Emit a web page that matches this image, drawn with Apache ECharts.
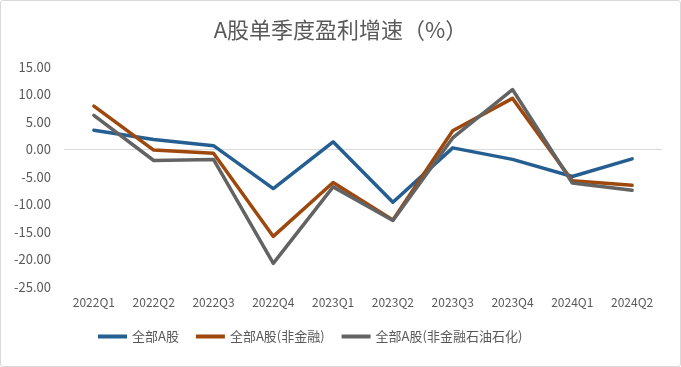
<!DOCTYPE html>
<html><head><meta charset="utf-8">
<script src="https://cdn.jsdelivr.net/npm/echarts@6/dist/echarts.min.js"></script>
<style>html,body{margin:0;padding:0;background:#fff}#c{width:681px;height:367px;box-sizing:border-box;border:1px solid #d9d9d9;border-radius:3px}</style>
</head><body><div id="c"></div>
<script>
var categories = ['2022Q1','2022Q2','2022Q3','2022Q4','2023Q1','2023Q2','2023Q3','2023Q4','2024Q1','2024Q2'];
var seriesNames = ['全部A股','全部A股(非金融)','全部A股(非金融石油石化)'];
var allA = [3.5, 1.8, 0.7, -7.1, 1.4, -9.6, 0.3, -1.8, -4.9, -1.7];
var nonFin = [7.9, -0.1, -0.7, -15.8, -6.0, -12.8, 3.4, 9.3, -5.7, -6.5];
var nonFinOil = [6.2, -2.0, -1.8, -20.7, -6.8, -12.9, 2.1, 10.9, -6.1, -7.4];
var yTicks = {min: -25, max: 15, interval: 5};
var colors = ['#255e91', '#9e480e', '#636363'];

var font = '"Noto Sans CJK SC","Noto Sans",sans-serif';
var chart = echarts.init(document.getElementById('c'));
function mk(name, data, i) {
  var s = {name: name, type: 'line', data: data, symbol: 'none', smooth: false,
    lineStyle: {width: 3.5, color: colors[i], cap: 'round', join: 'round'}, itemStyle: {color: colors[i]}, z: 3 + i};
  return s;
}
var series = [mk(seriesNames[0], allA, 0), mk(seriesNames[1], nonFin, 1), mk(seriesNames[2], nonFinOil, 2)];
series[0].markLine = {silent: true, symbol: 'none', label: {show: false},
  lineStyle: {color: '#d9d9d9', width: 1, type: 'solid'}, data: [{yAxis: 0}], z: 1};
chart.setOption({
  animation: false,
  color: colors,
  title: {text: 'A股单季度盈利增速（%）', left: 'center', top: 13,
    textStyle: {fontFamily: font, fontSize: 22, fontWeight: 'normal', color: '#595959'}},
  grid: {left: 63, right: 18, top: 66, bottom: 79},
  legend: {bottom: 18, left: 92, icon: 'rect', itemWidth: 29, itemHeight: 4, itemGap: 17,
    textStyle: {fontFamily: font, fontSize: 13, color: '#595959'}, data: seriesNames},
  xAxis: {type: 'category', data: categories, boundaryGap: true,
    axisLine: {show: false}, axisTick: {show: false},
    axisLabel: {fontFamily: font, fontSize: 12, color: '#595959', margin: 9, interval: 0}},
  yAxis: {type: 'value', min: yTicks.min, max: yTicks.max, interval: yTicks.interval,
    axisLine: {show: false}, axisTick: {show: false}, splitLine: {show: false},
    axisLabel: {fontFamily: font, fontSize: 13, color: '#595959', margin: 13,
      formatter: function (v) { return v.toFixed(2); }}},
  series: series
});
</script></body></html>
